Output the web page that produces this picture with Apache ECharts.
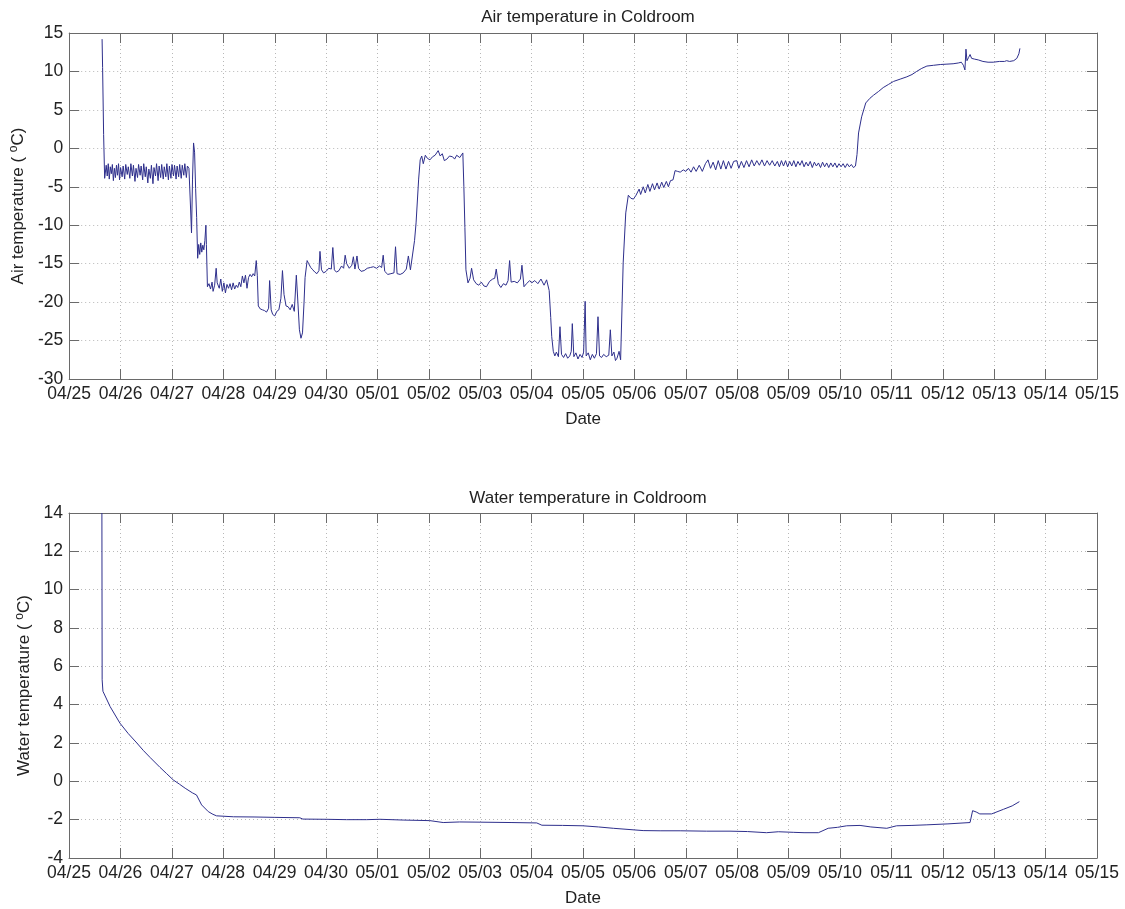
<!DOCTYPE html>
<html>
<head>
<meta charset="utf-8">
<script src="https://cdn.jsdelivr.net/npm/echarts@6/dist/echarts.min.js"></script>
<style>
html,body{margin:0;padding:0;background:#fff;}
#chart{width:1125px;height:909px;}
</style>
</head>
<body>
<div id="chart"></div>
<script>
// Tick labels along the date axis (x = days since 04/25 00:00)
const dateLabels = ['04/25','04/26','04/27','04/28','04/29','04/30','05/01','05/02','05/03','05/04','05/05',
  '05/06','05/07','05/08','05/09','05/10','05/11','05/12','05/13','05/14','05/15'];

const airTitle = 'Air temperature in Coldroom';
const waterTitle = 'Water temperature in Coldroom';

// Air temperature readings: [days since 04/25, °C]
const airReadings = [
  [0.64,14.2],[0.65,10.5],[0.67,1.8],[0.69,-3.9],
  [0.72,-2.2],[0.74,-3.6],[0.76,-2.0],[0.78,-4.0],[0.80,-2.4],[0.82,-3.3],[0.84,-2.1],[0.86,-4.2],
  [0.88,-2.6],[0.90,-3.8],[0.92,-2.2],[0.94,-3.5],[0.96,-2.0],[0.98,-4.1],[1.00,-2.5],[1.03,-3.7],
  [1.05,-2.3],[1.08,-4.0],[1.10,-2.1],[1.13,-3.4],[1.15,-2.4],[1.18,-3.9],[1.20,-2.0],[1.23,-3.6],
  [1.25,-2.2],[1.28,-4.3],[1.30,-2.6],[1.33,-3.8],[1.35,-2.1],[1.38,-3.5],[1.40,-2.3],[1.43,-4.1],
  [1.45,-2.0],[1.48,-3.7],[1.50,-2.4],[1.53,-4.5],[1.55,-2.7],[1.58,-3.9],[1.60,-2.2],[1.63,-4.6],
  [1.65,-2.5],[1.68,-3.6],[1.70,-2.0],[1.73,-4.2],[1.75,-2.3],[1.78,-3.8],[1.80,-2.1],[1.83,-4.0],
  [1.85,-2.4],[1.88,-3.7],[1.90,-2.0],[1.93,-4.1],[1.95,-2.3],[1.98,-3.9],[2.00,-2.1],[2.03,-3.6],
  [2.05,-2.2],[2.08,-4.0],[2.10,-2.3],[2.13,-3.7],[2.15,-2.1],[2.18,-3.9],[2.20,-2.2],[2.23,-3.5],
  [2.25,-2.0],[2.28,-3.8],[2.30,-2.3],[2.33,-2.6],
  [2.36,-7.5],[2.38,-11.0],[2.40,-4.0],[2.42,0.7],[2.44,-0.5],[2.46,-5.2],[2.48,-9.0],[2.50,-14.3],
  [2.52,-12.5],[2.54,-13.8],[2.56,-12.3],[2.58,-13.5],[2.60,-12.6],[2.62,-13.2],[2.64,-12.0],[2.66,-10.0],
  [2.67,-12.5],[2.69,-18.0],[2.72,-17.6],[2.75,-18.3],[2.78,-17.4],[2.80,-18.6],[2.83,-17.8],[2.86,-15.6],
  [2.88,-17.5],[2.92,-18.2],[2.95,-17.0],[2.98,-18.6],[3.01,-17.5],[3.04,-18.8],[3.07,-17.7],[3.10,-18.2],
  [3.13,-17.6],[3.16,-18.4],[3.19,-17.5],[3.22,-18.3],[3.25,-17.8],[3.28,-18.1],[3.31,-17.4],[3.34,-18.0],
  [3.37,-16.6],[3.40,-17.5],[3.43,-16.5],[3.46,-18.2],[3.49,-16.8],[3.52,-16.4],[3.55,-16.7],[3.58,-16.3],
  [3.61,-16.6],[3.64,-14.6],[3.66,-16.5],[3.68,-20.5],[3.72,-20.9],[3.76,-21.0],[3.80,-21.1],[3.84,-21.3],
  [3.88,-20.8],[3.90,-17.2],[3.93,-21.0],[3.96,-21.6],[4.00,-21.8],[4.04,-21.2],[4.08,-21.0],[4.12,-19.5],
  [4.15,-15.9],[4.18,-19.0],[4.22,-20.5],[4.26,-20.6],[4.30,-21.0],[4.34,-20.3],[4.38,-21.2],[4.42,-16.5],
  [4.45,-20.0],[4.48,-23.6],[4.51,-24.7],[4.54,-24.0],[4.57,-20.0],[4.59,-16.8],[4.63,-14.6],[4.66,-15.0],
  [4.70,-15.5],[4.74,-15.8],[4.78,-16.1],[4.82,-16.3],[4.86,-15.9],[4.88,-13.4],[4.91,-15.8],[4.95,-16.2],
  [5.00,-16.0],[5.05,-15.6],[5.10,-15.7],[5.13,-12.9],[5.16,-15.8],[5.20,-16.1],[5.25,-15.9],[5.30,-15.3],
  [5.34,-15.6],[5.37,-13.9],[5.40,-15.0],[5.45,-15.6],[5.50,-15.2],[5.53,-14.1],[5.56,-15.7],[5.60,-14.0],
  [5.63,-15.6],[5.68,-16.0],[5.74,-15.9],[5.80,-15.6],[5.86,-15.5],[5.92,-15.4],[5.98,-15.6],[6.04,-15.3],
  [6.08,-15.5],[6.11,-13.9],[6.14,-16.0],[6.20,-16.4],[6.26,-16.3],[6.32,-16.2],[6.35,-12.8],[6.38,-16.3],
  [6.44,-16.4],[6.50,-16.2],[6.56,-15.7],[6.60,-14.0],[6.64,-15.8],[6.67,-15.9],[6.72,-12.0],[6.75,-9.7],
  [6.80,-4.0],[6.83,-1.5],[6.86,-1.0],[6.89,-2.0],[6.93,-0.9],[6.97,-1.3],[7.02,-1.5],[7.07,-1.1],
  [7.12,-0.9],[7.18,-0.3],[7.22,-1.0],[7.26,-0.7],[7.30,-1.6],[7.35,-1.4],[7.40,-1.0],[7.46,-1.1],
  [7.50,-1.4],[7.54,-0.9],[7.60,-1.2],[7.66,-0.6],[7.68,-5.0],[7.70,-10.3],[7.72,-15.8],[7.76,-17.5],
  [7.80,-16.9],[7.83,-15.6],[7.87,-17.1],[7.92,-17.6],[7.97,-17.8],[8.02,-17.4],[8.07,-17.9],[8.12,-18.0],
  [8.18,-17.3],[8.24,-17.0],[8.28,-16.9],[8.31,-15.7],[8.35,-17.6],[8.40,-18.1],[8.45,-17.6],[8.50,-17.8],
  [8.54,-17.2],[8.57,-14.6],[8.60,-17.4],[8.66,-17.3],[8.72,-17.5],[8.78,-17.0],[8.81,-15.2],[8.85,-18.0],
  [8.90,-17.6],[8.96,-17.2],[9.00,-17.5],[9.06,-17.2],[9.12,-17.6],[9.18,-17.0],[9.24,-17.8],[9.29,-17.1],
  [9.34,-18.5],[9.37,-22.0],[9.39,-24.5],[9.42,-26.4],[9.45,-27.0],[9.48,-26.5],[9.52,-27.1],[9.55,-23.2],
  [9.58,-26.8],[9.62,-27.2],[9.66,-26.7],[9.70,-27.3],[9.74,-27.0],[9.77,-26.4],[9.79,-22.8],[9.82,-27.1],
  [9.86,-26.6],[9.90,-27.4],[9.94,-26.8],[9.98,-27.2],[10.01,-26.5],[10.04,-19.9],[10.06,-27.0],[10.10,-26.6],
  [10.14,-27.5],[10.18,-26.8],[10.22,-27.3],[10.26,-26.7],[10.29,-21.9],[10.32,-27.0],[10.36,-27.2],[10.40,-26.8],
  [10.45,-27.1],[10.50,-26.9],[10.53,-23.6],[10.56,-27.0],[10.60,-26.5],[10.63,-27.6],[10.66,-27.3],[10.70,-26.4],
  [10.73,-27.5],[10.76,-20.0],[10.78,-14.9],[10.83,-8.4],[10.88,-6.1],[10.93,-6.5],[10.98,-6.6],[11.03,-6.1],
  [11.09,-5.3],[11.12,-6.0],[11.17,-5.0],[11.21,-5.8],[11.26,-4.7],[11.30,-5.6],[11.35,-4.6],[11.39,-5.4],
  [11.44,-4.5],[11.48,-5.3],[11.53,-4.4],[11.57,-5.1],[11.62,-4.3],[11.66,-5.0],[11.70,-4.2],[11.75,-4.1],
  [11.79,-2.9],[11.84,-3.0],[11.89,-3.1],[11.95,-2.8],[12.00,-3.0],[12.05,-2.6],[12.10,-3.1],[12.15,-2.4],
  [12.20,-3.0],[12.26,-2.2],[12.32,-3.0],[12.38,-2.0],[12.43,-1.5],[12.48,-2.6],[12.53,-1.8],[12.58,-2.8],
  [12.63,-1.6],[12.68,-2.7],[12.73,-1.6],[12.78,-2.7],[12.83,-1.7],[12.88,-2.6],[12.93,-1.7],[12.99,-1.6],
  [13.03,-2.6],[13.08,-1.7],[13.13,-2.5],[13.18,-1.6],[13.23,-2.4],[13.28,-1.5],[13.33,-2.3],[13.38,-1.6],
  [13.43,-2.2],[13.48,-1.5],[13.53,-2.3],[13.58,-1.6],[13.63,-2.2],[13.68,-1.6],[13.73,-2.3],[13.78,-1.7],
  [13.82,-2.4],[13.86,-1.6],[13.90,-2.3],[13.94,-1.6],[13.98,-2.4],[14.02,-1.7],[14.06,-2.3],[14.10,-1.6],
  [14.14,-2.4],[14.18,-1.7],[14.22,-2.2],[14.26,-1.6],[14.30,-2.4],[14.34,-1.8],[14.38,-2.3],[14.42,-1.7],
  [14.46,-2.5],[14.50,-1.8],[14.54,-2.3],[14.58,-1.9],[14.62,-2.5],[14.66,-1.8],[14.70,-2.4],[14.74,-1.9],
  [14.78,-2.5],[14.82,-1.9],[14.86,-2.4],[14.90,-1.9],[14.94,-2.5],[14.98,-2.0],[15.02,-2.4],[15.06,-2.0],
  [15.10,-2.5],[15.14,-2.0],[15.18,-2.4],[15.22,-2.1],[15.26,-2.5],[15.30,-2.3],[15.33,-0.8],[15.36,2.0],
  [15.42,4.1],[15.50,5.9],[15.58,6.5],[15.65,6.9],[15.75,7.4],[15.84,7.9],[15.94,8.3],[16.04,8.7],
  [16.17,9.0],[16.30,9.3],[16.40,9.6],[16.49,10.0],[16.59,10.4],[16.69,10.7],[16.82,10.8],[16.95,10.9],
  [17.08,10.95],[17.20,11.0],[17.30,11.1],[17.36,11.2],[17.40,10.8],[17.43,10.2],[17.45,12.9],[17.47,11.4],
  [17.50,11.8],[17.53,12.2],[17.56,11.7],[17.62,11.6],[17.69,11.5],[17.78,11.3],[17.88,11.2],[17.98,11.2],
  [18.10,11.3],[18.20,11.3],[18.24,11.4],[18.26,11.6],[18.30,11.3],[18.38,11.4],[18.44,11.7],[18.48,12.3],
  [18.50,13.0]
];

// Water temperature readings: [days since 04/25, °C]
const waterReadings = [
  [0.64,14.0],[0.645,5.3],[0.66,4.7],[0.80,3.9],[0.99,3.04],[1.15,2.5],[1.32,2.0],[1.45,1.6],[1.58,1.24],
  [1.77,0.73],[1.90,0.4],[2.03,0.07],[2.15,-0.15],[2.26,-0.36],[2.40,-0.6],[2.48,-0.71],[2.58,-1.23],
  [2.71,-1.58],[2.80,-1.72],[2.87,-1.8],[3.20,-1.85],[3.60,-1.86],[4.00,-1.88],[4.49,-1.9],[4.55,-1.97],
  [5.00,-1.98],[5.40,-2.0],[5.79,-2.0],[6.05,-1.98],[6.50,-2.02],[7.02,-2.05],[7.28,-2.15],[7.60,-2.12],
  [8.00,-2.13],[8.60,-2.15],[9.10,-2.17],[9.20,-2.29],[9.60,-2.3],[10.00,-2.32],[10.30,-2.38],[10.59,-2.45],
  [11.17,-2.57],[11.50,-2.58],[11.89,-2.58],[12.40,-2.6],[12.86,-2.6],[13.20,-2.62],[13.57,-2.68],[13.80,-2.63],
  [14.09,-2.66],[14.30,-2.68],[14.58,-2.68],[14.77,-2.45],[14.95,-2.4],[15.13,-2.32],[15.39,-2.3],[15.60,-2.38],
  [15.91,-2.45],[16.10,-2.32],[16.40,-2.3],[16.69,-2.27],[17.10,-2.22],[17.53,-2.15],[17.58,-1.53],[17.65,-1.6],
  [17.72,-1.7],[17.95,-1.7],[18.18,-1.46],[18.35,-1.28],[18.49,-1.06]
];

const FONT = 'Liberation Sans, Arial, Helvetica, sans-serif';
const AXIS_COLOR = '#6a6a6a';
const LINE_COLOR = '#2e2f8c';
const TICK_FONT = 17.5;
const TEXT_FONT = 17;

const chart = echarts.init(document.getElementById('chart'));

function xBottom(gridIndex) {
  return {
    type: 'value', gridIndex, min: 0, max: 20, interval: 1, position: 'bottom',
    name: 'Date', nameLocation: 'middle', nameGap: 32,
    nameTextStyle: {fontFamily: FONT, fontSize: TEXT_FONT, color: '#222'},
    axisLine: {show: true, onZero: false, lineStyle: {color: AXIS_COLOR, width: 1}},
    axisTick: {show: true, inside: true, length: 10, lineStyle: {color: AXIS_COLOR}},
    axisLabel: {show: true, margin: 6, fontFamily: FONT, fontSize: TICK_FONT, color: '#222',
      formatter: v => dateLabels[Math.round(v)] || ''},
    splitLine: {show: true, lineStyle: {color: '#b8b8b8', type: [1, 3], width: 1}}
  };
}
function xTop(gridIndex) {
  return {
    type: 'value', gridIndex, min: 0, max: 20, interval: 1, position: 'top',
    axisLine: {show: true, onZero: false, lineStyle: {color: AXIS_COLOR, width: 1}},
    axisTick: {show: true, inside: true, length: 10, lineStyle: {color: AXIS_COLOR}},
    axisLabel: {show: false}, splitLine: {show: false}
  };
}
function yLeft(gridIndex, min, max, interval, nameText, nameGap) {
  return {
    type: 'value', gridIndex, min, max, interval, position: 'left',
    name: nameText, nameLocation: 'middle', nameGap,
    nameTextStyle: {fontFamily: FONT, fontSize: TEXT_FONT, color: '#222',
      rich: {sup: {fontFamily: FONT, fontSize: 12, color: '#222', verticalAlign: 'top', padding: [0, 0, 9, 0]}}},
    axisLine: {show: true, onZero: false, lineStyle: {color: AXIS_COLOR, width: 1}},
    axisTick: {show: true, inside: true, length: 10, lineStyle: {color: AXIS_COLOR}},
    axisLabel: {show: true, margin: 6, fontFamily: FONT, fontSize: TICK_FONT, color: '#222'},
    splitLine: {show: true, lineStyle: {color: '#b8b8b8', type: [1, 3], width: 1}}
  };
}
function yRight(gridIndex, min, max, interval) {
  return {
    type: 'value', gridIndex, min, max, interval, position: 'right',
    axisLine: {show: true, onZero: false, lineStyle: {color: AXIS_COLOR, width: 1}},
    axisTick: {show: true, inside: true, length: 10, lineStyle: {color: AXIS_COLOR}},
    axisLabel: {show: false}, splitLine: {show: false}
  };
}

const option = {
  backgroundColor: '#ffffff',
  animation: false,
  title: [
    {text: airTitle, left: 583, top: 4, textAlign: 'center',
      textStyle: {fontFamily: FONT, fontSize: TEXT_FONT, fontWeight: 'normal', color: '#222'}},
    {text: waterTitle, left: 583, top: 485, textAlign: 'center',
      textStyle: {fontFamily: FONT, fontSize: TEXT_FONT, fontWeight: 'normal', color: '#222'}}
  ],
  grid: [
    {left: 69, top: 33, width: 1028, height: 346},
    {left: 69, top: 513, width: 1028, height: 345}
  ],
  xAxis: [xBottom(0), xTop(0), xBottom(1), xTop(1)],
  yAxis: [
    yLeft(0, -30, 15, 5, 'Air temperature ( {sup|o}C)', 39),
    yRight(0, -30, 15, 5),
    yLeft(1, -4, 14, 2, 'Water temperature ( {sup|o}C)', 34),
    yRight(1, -4, 14, 2)
  ],
  series: [
    {type: 'line', xAxisIndex: 0, yAxisIndex: 0, data: airReadings, showSymbol: false, symbol: 'none',
      lineStyle: {color: LINE_COLOR, width: 1}, clip: true},
    {type: 'line', xAxisIndex: 2, yAxisIndex: 2, data: waterReadings, showSymbol: false, symbol: 'none',
      lineStyle: {color: LINE_COLOR, width: 1}, clip: true}
  ]
};
chart.setOption(option);
</script>
</body>
</html>
